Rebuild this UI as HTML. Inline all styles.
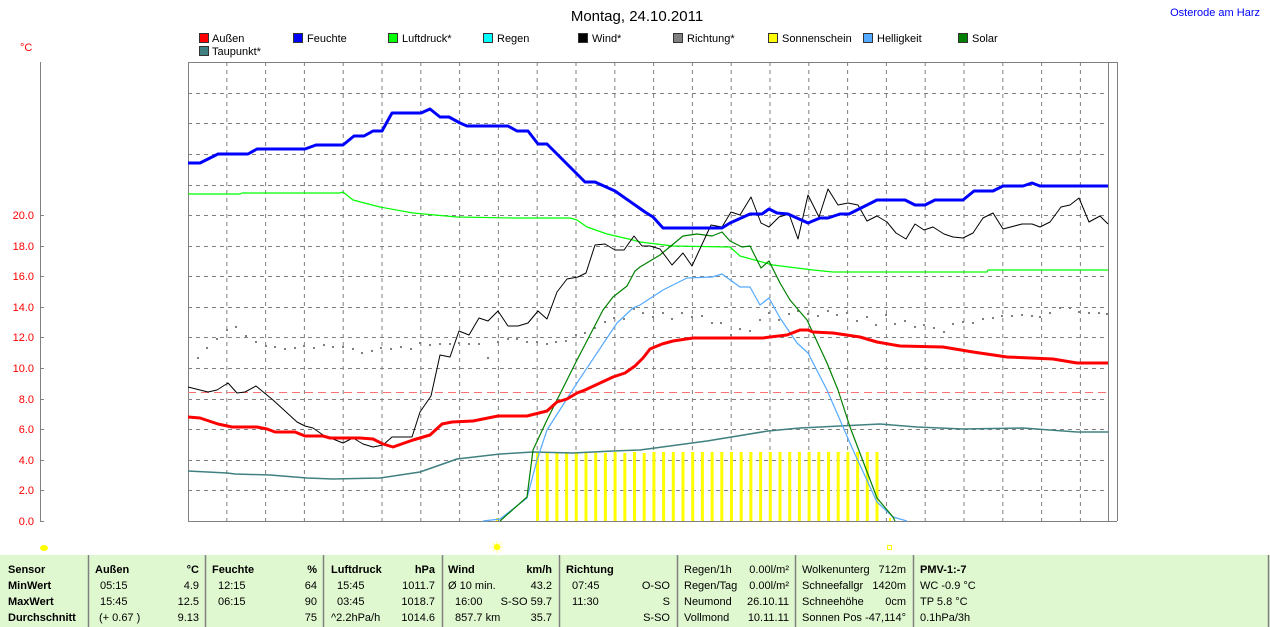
<!DOCTYPE html>
<html><head><meta charset="utf-8"><style>
body{margin:0;background:#fff;width:1270px;height:627px;overflow:hidden;font-family:"Liberation Sans",sans-serif}
svg{display:block}
</style></head><body>
<svg width="1270" height="627" viewBox="0 0 1270 627" xmlns="http://www.w3.org/2000/svg" font-family="Liberation Sans, sans-serif">
<text x="637" y="21" font-size="15" text-anchor="middle" fill="#000">Montag, 24.10.2011</text>
<text x="1260" y="16" font-size="11" text-anchor="end" fill="#0000ff">Osterode am Harz</text>
<g font-size="11" fill="#000" stroke="#333" stroke-width="1">
<rect x="199.5" y="33.5" width="9" height="9" fill="#ff0000"/><text x="212" y="42" stroke="none">Außen</text>
<rect x="293.5" y="33.5" width="9" height="9" fill="#0000ff"/><text x="307" y="42" stroke="none">Feuchte</text>
<rect x="388.5" y="33.5" width="9" height="9" fill="#00ff00"/><text x="402" y="42" stroke="none">Luftdruck*</text>
<rect x="483.5" y="33.5" width="9" height="9" fill="#00ffff"/><text x="497" y="42" stroke="none">Regen</text>
<rect x="578.5" y="33.5" width="9" height="9" fill="#000000"/><text x="592" y="42" stroke="none">Wind*</text>
<rect x="673.5" y="33.5" width="9" height="9" fill="#808080"/><text x="687" y="42" stroke="none">Richtung*</text>
<rect x="768.5" y="33.5" width="9" height="9" fill="#ffff00"/><text x="782" y="42" stroke="none">Sonnenschein</text>
<rect x="863.5" y="33.5" width="9" height="9" fill="#55aaff"/><text x="877" y="42" stroke="none">Helligkeit</text>
<rect x="958.5" y="33.5" width="9" height="9" fill="#008000"/><text x="972" y="42" stroke="none">Solar</text>
<rect x="199.5" y="46.5" width="9" height="9" fill="#408080"/><text x="212" y="55" stroke="none">Taupunkt*</text>
</g>
<text x="20" y="51" font-size="11" fill="#ff0000">°C</text>
<!-- left axis -->
<g stroke="#808080" stroke-width="1">
<line x1="40.5" y1="62" x2="40.5" y2="521"/>
<line x1="40" y1="521.5" x2="44" y2="521.5"/><line x1="40" y1="490.5" x2="44" y2="490.5"/><line x1="40" y1="460.5" x2="44" y2="460.5"/><line x1="40" y1="429.5" x2="44" y2="429.5"/><line x1="40" y1="399.5" x2="44" y2="399.5"/><line x1="40" y1="368.5" x2="44" y2="368.5"/><line x1="40" y1="337.5" x2="44" y2="337.5"/><line x1="40" y1="307.5" x2="44" y2="307.5"/><line x1="40" y1="276.5" x2="44" y2="276.5"/><line x1="40" y1="246.5" x2="44" y2="246.5"/><line x1="40" y1="215.5" x2="44" y2="215.5"/>
</g>
<g font-size="11" fill="#ff0000" text-anchor="end">
<text x="34" y="525">0.0</text><text x="34" y="494">2.0</text><text x="34" y="464">4.0</text><text x="34" y="433">6.0</text><text x="34" y="403">8.0</text><text x="34" y="372">10.0</text><text x="34" y="341">12.0</text><text x="34" y="311">14.0</text><text x="34" y="280">16.0</text><text x="34" y="250">18.0</text><text x="34" y="219">20.0</text>
</g>
<!-- grid -->
<g stroke="#808080" stroke-width="1" stroke-dasharray="4,4">
<line x1="188" y1="93.5" x2="1108" y2="93.5"/><line x1="188" y1="123.5" x2="1108" y2="123.5"/><line x1="188" y1="154.5" x2="1108" y2="154.5"/><line x1="188" y1="185.5" x2="1108" y2="185.5"/><line x1="188" y1="215.5" x2="1108" y2="215.5"/><line x1="188" y1="246.5" x2="1108" y2="246.5"/><line x1="188" y1="276.5" x2="1108" y2="276.5"/><line x1="188" y1="307.5" x2="1108" y2="307.5"/><line x1="188" y1="337.5" x2="1108" y2="337.5"/><line x1="188" y1="368.5" x2="1108" y2="368.5"/><line x1="188" y1="399.5" x2="1108" y2="399.5"/><line x1="188" y1="429.5" x2="1108" y2="429.5"/><line x1="188" y1="460.5" x2="1108" y2="460.5"/><line x1="188" y1="490.5" x2="1108" y2="490.5"/>
<line x1="226.8" y1="62" x2="226.8" y2="521"/><line x1="265.6" y1="62" x2="265.6" y2="521"/><line x1="304.4" y1="62" x2="304.4" y2="521"/><line x1="343.2" y1="62" x2="343.2" y2="521"/><line x1="382" y1="62" x2="382" y2="521"/><line x1="420.8" y1="62" x2="420.8" y2="521"/><line x1="459.6" y1="62" x2="459.6" y2="521"/><line x1="498.4" y1="62" x2="498.4" y2="521"/><line x1="537.2" y1="62" x2="537.2" y2="521"/><line x1="576" y1="62" x2="576" y2="521"/><line x1="614.8" y1="62" x2="614.8" y2="521"/><line x1="653.6" y1="62" x2="653.6" y2="521"/><line x1="692.4" y1="62" x2="692.4" y2="521"/><line x1="731.2" y1="62" x2="731.2" y2="521"/><line x1="770" y1="62" x2="770" y2="521"/><line x1="808.8" y1="62" x2="808.8" y2="521"/><line x1="847.6" y1="62" x2="847.6" y2="521"/><line x1="886.4" y1="62" x2="886.4" y2="521"/><line x1="925.2" y1="62" x2="925.2" y2="521"/><line x1="964" y1="62" x2="964" y2="521"/><line x1="1002.8" y1="62" x2="1002.8" y2="521"/><line x1="1041.6" y1="62" x2="1041.6" y2="521"/><line x1="1080.4" y1="62" x2="1080.4" y2="521"/>
</g>
<g stroke="#808080" stroke-width="1" fill="none">
<line x1="188.5" y1="62" x2="188.5" y2="521"/>
<line x1="188" y1="62.5" x2="1117" y2="62.5"/>
<line x1="188" y1="521.5" x2="1117" y2="521.5"/>
<line x1="1108.5" y1="62" x2="1108.5" y2="521"/>
<line x1="1117.5" y1="62" x2="1117.5" y2="521"/>
</g>
<!-- sunshine bars -->
<g fill="#ffff00">
<rect x="536" y="453" width="3" height="68"/><rect x="545.7" y="452" width="3" height="69"/><rect x="555.4" y="452" width="3" height="69"/><rect x="565.1" y="453" width="3" height="68"/><rect x="574.8" y="452" width="3" height="69"/><rect x="584.5" y="453" width="3" height="68"/><rect x="594.2" y="453" width="3" height="68"/><rect x="603.9" y="453" width="3" height="68"/><rect x="613.6" y="452" width="3" height="69"/><rect x="623.3" y="453" width="3" height="68"/><rect x="633" y="452" width="3" height="69"/><rect x="642.7" y="453" width="3" height="68"/><rect x="652.4" y="452" width="3" height="69"/><rect x="662.1" y="452" width="3" height="69"/><rect x="671.8" y="452" width="3" height="69"/><rect x="681.5" y="452" width="3" height="69"/><rect x="691.2" y="452" width="3" height="69"/><rect x="700.9" y="452" width="3" height="69"/><rect x="710.6" y="452" width="3" height="69"/><rect x="720.3" y="452" width="3" height="69"/><rect x="730" y="452" width="3" height="69"/><rect x="739.7" y="452" width="3" height="69"/><rect x="749.4" y="452" width="3" height="69"/><rect x="759.1" y="452" width="3" height="69"/><rect x="768.8" y="452" width="3" height="69"/><rect x="778.5" y="452" width="3" height="69"/><rect x="788.2" y="452" width="3" height="69"/><rect x="797.9" y="452" width="3" height="69"/><rect x="807.6" y="452" width="3" height="69"/><rect x="817.3" y="452" width="3" height="69"/><rect x="827" y="452" width="3" height="69"/><rect x="836.7" y="452" width="3" height="69"/><rect x="846.4" y="452" width="3" height="69"/><rect x="856.1" y="452" width="3" height="69"/><rect x="865.8" y="452" width="3" height="69"/><rect x="875.5" y="452" width="3" height="69"/>
<rect x="496" y="518" width="2" height="3"/><rect x="889" y="518" width="2" height="3"/>
</g>
<!-- red dashed -->
<line x1="188" y1="392.5" x2="1108" y2="392.5" stroke="#ff7070" stroke-width="1" stroke-dasharray="8,5"/>
<!-- Richtung dots -->
<g fill="#808080">
<rect x="197" y="357" width="2" height="2"/><rect x="206" y="347" width="2" height="2"/><rect x="216" y="338" width="2" height="2"/><rect x="226" y="329" width="2" height="2"/><rect x="235" y="326" width="2" height="2"/><rect x="245" y="335" width="2" height="2"/><rect x="255" y="341" width="2" height="2"/><rect x="265" y="345" width="2" height="2"/><rect x="274" y="346" width="2" height="2"/><rect x="284" y="348" width="2" height="2"/><rect x="294" y="347" width="2" height="2"/><rect x="303" y="345" width="2" height="2"/><rect x="313" y="347" width="2" height="2"/><rect x="323" y="344" width="2" height="2"/><rect x="332" y="346" width="2" height="2"/><rect x="342" y="346" width="2" height="2"/><rect x="352" y="348" width="2" height="2"/><rect x="361" y="352" width="2" height="2"/><rect x="371" y="350" width="2" height="2"/><rect x="380" y="347" width="2" height="2"/><rect x="390" y="348" width="2" height="2"/><rect x="400" y="346" width="2" height="2"/><rect x="410" y="348" width="2" height="2"/><rect x="419" y="342" width="2" height="2"/><rect x="429" y="344" width="2" height="2"/><rect x="439" y="343" width="2" height="2"/><rect x="449" y="343" width="2" height="2"/><rect x="458" y="342" width="2" height="2"/><rect x="468" y="343" width="2" height="2"/><rect x="478" y="343" width="2" height="2"/><rect x="487" y="357" width="2" height="2"/><rect x="497" y="341" width="2" height="2"/><rect x="507" y="338" width="2" height="2"/><rect x="516" y="338" width="2" height="2"/><rect x="526" y="341" width="2" height="2"/><rect x="536" y="341" width="2" height="2"/><rect x="546" y="343" width="2" height="2"/><rect x="555" y="341" width="2" height="2"/><rect x="565" y="340" width="2" height="2"/><rect x="575" y="334" width="2" height="2"/><rect x="584" y="332" width="2" height="2"/><rect x="594" y="327" width="2" height="2"/><rect x="604" y="321" width="2" height="2"/><rect x="613" y="317" width="2" height="2"/><rect x="623" y="318" width="2" height="2"/><rect x="633" y="308" width="2" height="2"/><rect x="642" y="312" width="2" height="2"/><rect x="652" y="316" width="2" height="2"/><rect x="662" y="312" width="2" height="2"/><rect x="671" y="318" width="2" height="2"/><rect x="681" y="312" width="2" height="2"/><rect x="691" y="316" width="2" height="2"/><rect x="701" y="315" width="2" height="2"/><rect x="711" y="322" width="2" height="2"/><rect x="720" y="322" width="2" height="2"/><rect x="730" y="334" width="2" height="2"/><rect x="739" y="328" width="2" height="2"/><rect x="749" y="330" width="2" height="2"/><rect x="759" y="319" width="2" height="2"/><rect x="768" y="312" width="2" height="2"/><rect x="778" y="319" width="2" height="2"/><rect x="788" y="313" width="2" height="2"/><rect x="797" y="310" width="2" height="2"/><rect x="807" y="313" width="2" height="2"/><rect x="817" y="315" width="2" height="2"/><rect x="827" y="310" width="2" height="2"/><rect x="836" y="314" width="2" height="2"/><rect x="846" y="312" width="2" height="2"/><rect x="856" y="320" width="2" height="2"/><rect x="866" y="316" width="2" height="2"/><rect x="875" y="324" width="2" height="2"/><rect x="885" y="314" width="2" height="2"/><rect x="894" y="323" width="2" height="2"/><rect x="904" y="320" width="2" height="2"/><rect x="914" y="326" width="2" height="2"/><rect x="923" y="324" width="2" height="2"/><rect x="933" y="327" width="2" height="2"/><rect x="943" y="331" width="2" height="2"/><rect x="952" y="323" width="2" height="2"/><rect x="962" y="321" width="2" height="2"/><rect x="972" y="322" width="2" height="2"/><rect x="982" y="318" width="2" height="2"/><rect x="992" y="317" width="2" height="2"/><rect x="1001" y="315" width="2" height="2"/><rect x="1011" y="315" width="2" height="2"/><rect x="1021" y="314" width="2" height="2"/><rect x="1031" y="315" width="2" height="2"/><rect x="1039" y="316" width="2" height="2"/><rect x="1049" y="312" width="2" height="2"/><rect x="1059" y="307" width="2" height="2"/><rect x="1069" y="307" width="2" height="2"/><rect x="1078" y="311" width="2" height="2"/><rect x="1088" y="312" width="2" height="2"/><rect x="1098" y="312" width="2" height="2"/><rect x="1106" y="313" width="2" height="2"/>
</g>
<g fill="none" stroke-linejoin="round">
<!-- Taupunkt -->
<polyline stroke="#408080" stroke-width="1.5" points="188,471 227,473 235,474 270,475 307,478 333,479 380,478 420,472 457,459 500,454 533,452 573,453 613,451 640,450 707,441 768,431 800,428 880,424 917,427 963,429 1023,428 1077,432 1108,432"/>
<!-- Luftdruck -->
<polyline stroke="#00ff00" stroke-width="1.2" points="188,194 240,194 242,193 340,193 343,192 353,200 380,207 413,213 457,217 513,218 570,218 577,220 587,227 607,234 633,240 640,242 673,246 730,247 740,256 773,265 813,270 833,272 987,272 988,270 1108,270"/>
<!-- Helligkeit -->
<polyline stroke="#55aaff" stroke-width="1.2" points="483,521 500,519 527,498 537,460 547,430 577,383 617,323 633,308 640,305 663,290 687,278 712,277 722,274 740,287 750,287 760,305 769,298 780,318 797,343 808,353 827,390 840,420 853,450 877,502 893,517 907,521"/>
<!-- Solar -->
<polyline stroke="#008000" stroke-width="1.2" points="500,521 527,497 533,450 547,420 577,360 603,310 613,297 627,286 635,271 640,267 660,255 683,236 697,234 712,236 722,232 730,241 742,247 750,246 761,268 769,261 780,283 790,300 807,320 827,363 838,390 850,427 877,498 893,517 895,521"/>
<!-- Wind -->
<polyline stroke="#000" stroke-width="1" points="188,387 208,392 217,390 228,383 237,393 245,392 256,386 273,400 297,422 305,426 313,428 323,435 343,443 353,438 363,444 373,447 383,445 392,437 412,437 420,412 431,396 440,355 450,357 459,331 469,335 479,318 488,321 498,311 508,326 518,326 528,323 538,311 547,319 557,292 567,279 578,277 586,273 595,245 605,244 615,250 624,250 634,236 642,246 650,246 660,249 672,265 683,253 692,266 711,225 722,227 731,212 740,215 751,197 761,223 769,227 779,217 789,214 798,239 808,195 819,217 828,189 838,205 848,203 858,205 867,221 877,216 887,222 896,233 906,239 915,224 924,230 933,227 944,234 953,237 963,238 973,233 983,218 993,213 1003,229 1022,224 1032,224 1040,227 1050,222 1061,207 1070,205 1079,198 1089,222 1100,216 1108,224"/>
<!-- Außen -->
<polyline stroke="#ff0000" stroke-width="3" points="188,417 200,418 218,424 232,427 257,427 267,429 275,432 295,432 305,436 323,436 330,438 360,438 373,439 383,444 393,447 413,440 430,435 442,424 452,422 473,421 498,416 527,416 547,411 557,402 567,399 577,393 585,390 613,377 625,373 635,366 643,358 650,349 662,344 673,341 693,338 763,338 770,337 787,335 800,330 808,330 813,332 833,333 860,337 877,342 900,346 943,347 973,352 1007,357 1053,359 1077,363 1108,363"/>
<!-- Feuchte -->
<polyline stroke="#0000ff" stroke-width="3" points="188,163 200,163 218,154 248,154 257,149 305,149 316,145 343,145 354,136 364,136 373,131 382,131 392,113 421,113 430,109 440,117 449,117 460,123 467,126 508,126 517,131 528,131 538,144 547,144 585,182 595,182 615,191 645,212 653,217 663,228 722,228 730,223 750,214 762,214 769,209 777,213 788,214 808,223 820,218 828,218 840,214 849,214 877,200 905,200 915,205 925,205 935,200 963,200 974,191 993,191 1003,186 1023,186 1032,183 1040,186 1108,186"/>
</g>
<!-- sun icons -->
<ellipse cx="44" cy="548" rx="4" ry="3" fill="#ffff00"/>
<circle cx="497" cy="547" r="3" fill="#ffff00"/>
<g stroke="#ffff80" stroke-width="1"><line x1="491" y1="547" x2="503" y2="547"/><line x1="497" y1="541" x2="497" y2="553"/><line x1="493" y1="543" x2="501" y2="551"/><line x1="501" y1="543" x2="493" y2="551"/></g>
<circle cx="497" cy="547" r="3" fill="#ffff00"/>
<rect x="887.5" y="545.5" width="4" height="4" fill="none" stroke="#ffff00"/>
<!-- table -->
<rect x="0" y="555" width="1270" height="72" fill="#e0f8d0"/>
<g stroke="#808080" stroke-width="1.5">
<line x1="88.5" y1="555" x2="88.5" y2="627"/><line x1="205.5" y1="555" x2="205.5" y2="627"/><line x1="323.5" y1="555" x2="323.5" y2="627"/><line x1="442.5" y1="555" x2="442.5" y2="627"/><line x1="559.5" y1="555" x2="559.5" y2="627"/><line x1="677.5" y1="555" x2="677.5" y2="627"/><line x1="795.5" y1="555" x2="795.5" y2="627"/><line x1="913.5" y1="555" x2="913.5" y2="627"/><line x1="1268.5" y1="555" x2="1268.5" y2="627"/>
</g>
<g font-size="11" fill="#000">
<g font-weight="bold"><text x="8" y="573">Sensor</text><text x="8" y="589">MinWert</text><text x="8" y="605">MaxWert</text><text x="8" y="621">Durchschnitt</text>
<text x="95" y="573">Außen</text><text x="212" y="573">Feuchte</text><text x="331" y="573">Luftdruck</text><text x="448" y="573">Wind</text><text x="566" y="573">Richtung</text><text x="920" y="573">PMV-1:-7</text>
</g>
<g font-weight="bold" text-anchor="end"><text x="199" y="573">°C</text><text x="317" y="573">%</text><text x="435" y="573">hPa</text><text x="552" y="573">km/h</text></g>
<text x="100" y="589">05:15</text><text x="100" y="605">15:45</text><text x="99" y="621">(+ 0.67 )</text>
<text x="218" y="589">12:15</text><text x="218" y="605">06:15</text>
<text x="337" y="589">15:45</text><text x="337" y="605">03:45</text><text x="331" y="621">^2.2hPa/h</text>
<text x="448" y="589">Ø 10 min.</text><text x="455" y="605">16:00</text><text x="455" y="621">857.7 km</text>
<text x="572" y="589">07:45</text><text x="572" y="605">11:30</text>
<g text-anchor="end">
<text x="199" y="589">4.9</text><text x="199" y="605">12.5</text><text x="199" y="621">9.13</text>
<text x="317" y="589">64</text><text x="317" y="605">90</text><text x="317" y="621">75</text>
<text x="435" y="589">1011.7</text><text x="435" y="605">1018.7</text><text x="435" y="621">1014.6</text>
<text x="552" y="589">43.2</text><text x="552" y="605">S-SO 59.7</text><text x="552" y="621">35.7</text>
<text x="670" y="589">O-SO</text><text x="670" y="605">S</text><text x="670" y="621">S-SO</text>
<text x="789" y="573">0.00l/m²</text><text x="789" y="589">0.00l/m²</text><text x="789" y="605">26.10.11</text><text x="789" y="621">10.11.11</text>
<text x="906" y="573">712m</text><text x="906" y="589">1420m</text><text x="906" y="605">0cm</text><text x="906" y="621">-47,114°</text>
</g>
<text x="684" y="573">Regen/1h</text><text x="684" y="589">Regen/Tag</text><text x="684" y="605">Neumond</text><text x="684" y="621">Vollmond</text>
<text x="802" y="573">Wolkenunterg</text><text x="802" y="589">Schneefallgr</text><text x="802" y="605">Schneehöhe</text><text x="802" y="621">Sonnen Pos</text>
<text x="920" y="589">WC -0.9 °C</text><text x="920" y="605">TP 5.8 °C</text><text x="920" y="621">0.1hPa/3h</text>
</g>
</svg>
</body></html>
